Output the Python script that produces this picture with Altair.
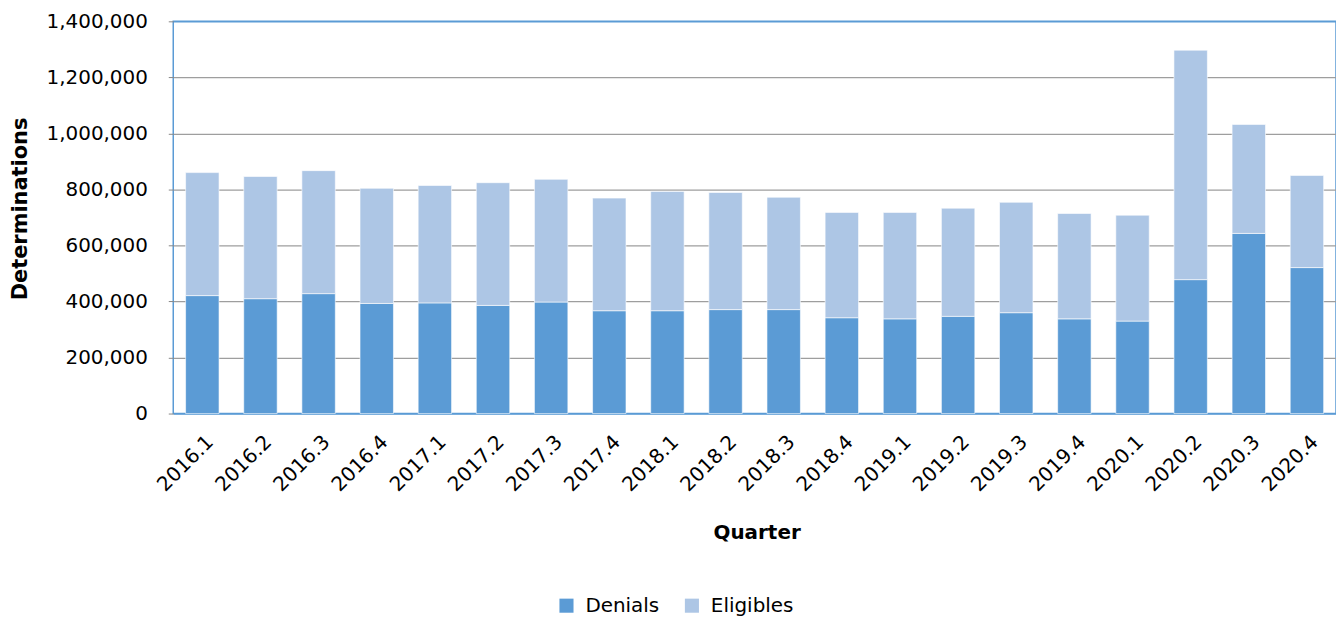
import altair as alt
import pandas as pd

quarters = ["2016.1", "2016.2", "2016.3", "2016.4", "2017.1", "2017.2", "2017.3", "2017.4",
            "2018.1", "2018.2", "2018.3", "2018.4", "2019.1", "2019.2", "2019.3", "2019.4",
            "2020.1", "2020.2", "2020.3", "2020.4"]
denials = [421000, 410000, 428000, 393000, 395000, 386000, 398000, 367000,
           367000, 371000, 371000, 342000, 338000, 347000, 360000, 338000,
           330000, 478000, 643000, 521000]
eligibles = [439000, 436000, 439000, 411000, 419000, 438000, 438000, 402000,
             426000, 418000, 401000, 376000, 380000, 386000, 394000, 376000,
             378000, 819000, 389000, 329000]
series = ["Denials", "Eligibles"]
colors = ["#5B9BD5", "#ADC6E5"]
y_ticks = [0, 200000, 400000, 600000, 800000, 1000000, 1200000, 1400000]

rows = []
for q, d, e in zip(quarters, denials, eligibles):
    rows.append({"Quarter": q, "Series": "Denials", "Value": d, "ord": 0})
    rows.append({"Quarter": q, "Series": "Eligibles", "Value": e, "ord": 1})
df = pd.DataFrame(rows)

FONT = "DejaVu Sans"
BORDER = "#5B9BD5"

grid_color = {
    "condition": {"test": "datum.value === 0 || datum.value === 1400000", "value": BORDER},
    "value": "#9E9E9E",
}

chart = alt.Chart(df).mark_bar(stroke="white", strokeWidth=0.6).encode(
    x=alt.X("Quarter:N", sort=quarters,
            scale=alt.Scale(paddingInner=0.425, paddingOuter=0.2125),
            axis=alt.Axis(title="Quarter", labelAngle=-45, labelAlign="right",
                          labelBaseline="top", labelPadding=18, labelOffset=1,
                          ticks=False, domain=False, labelOverlap=False,
                          labelFont=FONT, labelFontSize=20,
                          labelColor="#000000", titleFont=FONT, titleFontSize=20,
                          titleFontWeight="bold", titleColor="#000000",
                          titleX=586, titleY=120, titleBaseline="middle",
                          titleAlign="center")),
    y=alt.Y("Value:Q", stack="zero",
            scale=alt.Scale(domain=[0, 1400000], nice=False),
            axis=alt.Axis(title="Determinations", format=",d",
                          values=y_ticks, labelOverlap=False, labelBound=False,
                          domain=False, ticks=True, tickSize=5, tickColor="#868686",
                          labelPadding=21, gridColor=grid_color, gridWidth=1.2,
                          labelFont=FONT, labelFontSize=20, labelColor="#000000",
                          titleFont=FONT, titleFontSize=21, titleFontWeight="bold",
                          titleColor="#000000", titleAngle=-90, titleX=-153, titleY=188,
                          titleAlign="center", titleBaseline="middle")),
    color=alt.Color("Series:N", scale=alt.Scale(domain=series, range=colors),
                    legend=alt.Legend(title=None, orient="none", direction="horizontal",
                                      legendX=385, legendY=577, symbolType="square",
                                      symbolSize=200, symbolStrokeWidth=0,
                                      labelFont=FONT, labelFontSize=20,
                                      labelColor="#000000", columnPadding=22,
                                      labelOffset=9)),
    order=alt.Order("ord:Q", sort="ascending"),
).properties(
    width=1168, height=394,
    autosize=alt.AutoSizeParams(type="none"),
    padding={"left": 166, "top": 12, "right": 0, "bottom": 205},
).configure(
    background="white"
).configure_view(
    stroke=BORDER, strokeWidth=1.5
)

chart.save("out.html", embed_options={"renderer": "svg", "actions": False})
